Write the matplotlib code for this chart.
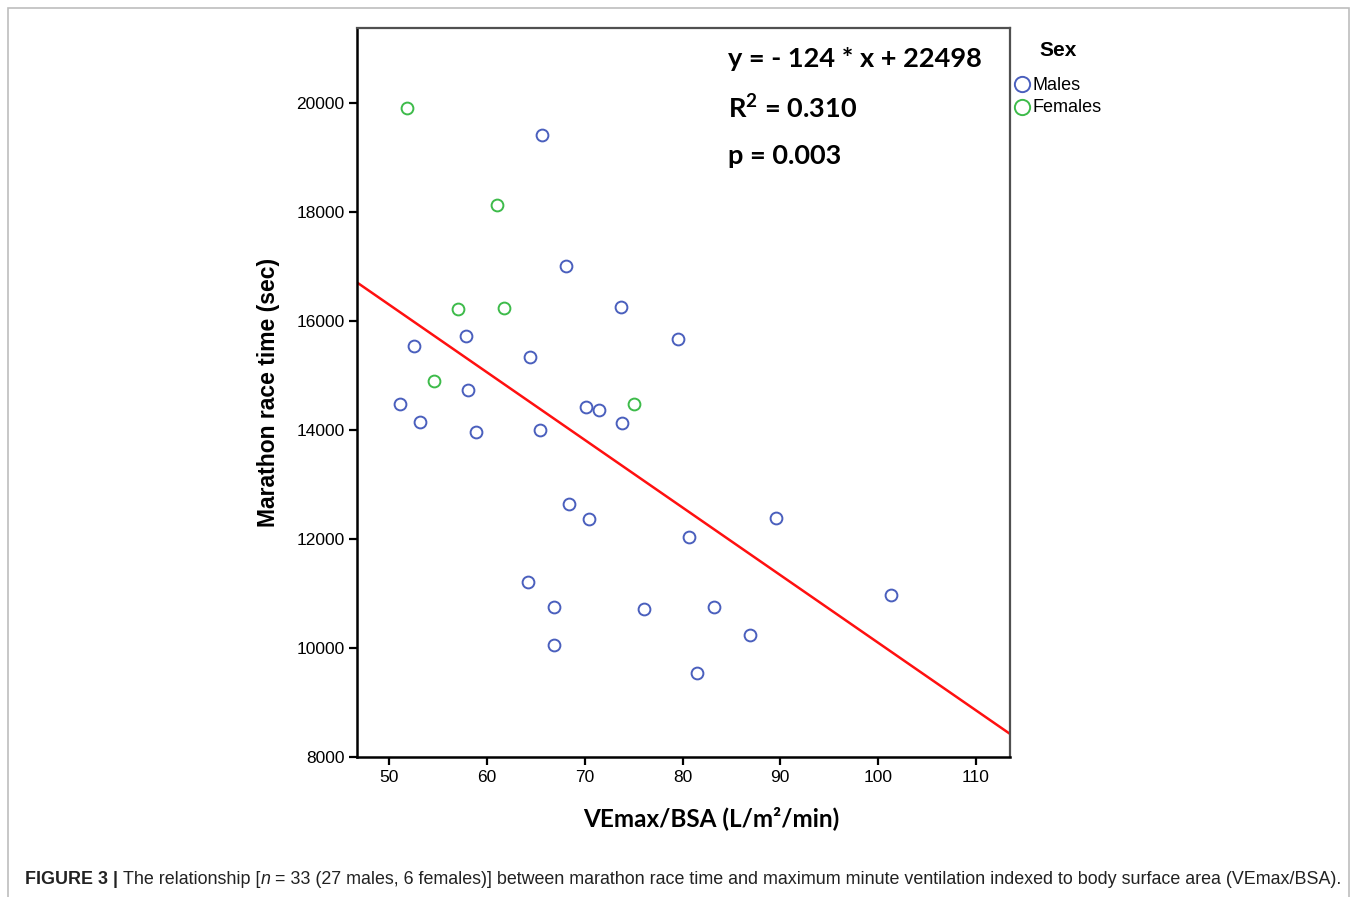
import numpy as np
import matplotlib
matplotlib.use("Agg")
from matplotlib import pyplot as plt
from matplotlib.patches import Rectangle
from matplotlib.lines import Line2D

# data
males_x = [65.6, 68.1, 73.7, 79.5, 57.9, 52.5, 64.4, 58.1, 51.1, 53.1, 58.9, 65.4,
           70.1, 71.5, 73.8, 68.4, 70.4, 80.7, 89.6, 64.2, 66.9, 66.9, 76.1, 83.2,
           86.9, 81.5, 101.3]
males_y = [19410, 17010, 16250, 15670, 15720, 15540, 15340, 14730, 14480, 14150, 13960, 14000,
           14420, 14370, 14130, 12640, 12370, 12040, 12380, 11210, 10750, 10060, 10720, 10750,
           10240, 9540, 10970]
females_x = [51.8, 61.0, 57.0, 61.7, 54.6, 75.0]
females_y = [19910, 18120, 16220, 16240, 14900, 14480]

slope = -124
intercept = 22498

x_ticks = [50, 60, 70, 80, 90, 100, 110]
y_ticks = [8000, 10000, 12000, 14000, 16000, 18000, 20000]

blue = "#4a5fbd"
green = "#3dbb4a"

W, H = 1357, 897
fig = plt.figure(figsize=(W / 100, H / 100), dpi=100)
plt.rcParams['mathtext.fontset'] = 'custom'
plt.rcParams['mathtext.bf'] = 'Lato:bold'
plt.rcParams['mathtext.rm'] = 'Lato:bold'

# outer frame round the figure
fig.add_artist(Rectangle((8 / W, -0.01), (1349 - 8) / W, 1.01 - 8 / H, transform=fig.transFigure,
                         fill=False, edgecolor="#bdbdbd", linewidth=1.2))

ax = fig.add_axes([357 / W, 1 - 757 / H, (1010 - 357) / W, (757 - 28) / H])
ax.set_xlim(46.7, 113.5)
ax.set_ylim(8000, 21376)

ax.plot(males_x, males_y, "o", mfc="none", mec=blue, ms=8.5, mew=1.4)
ax.plot(females_x, females_y, "o", mfc="none", mec=green, ms=8.5, mew=1.4)

xl = np.array(ax.get_xlim())
ax.plot(xl, slope * xl + intercept, color="#ff1010", lw=1.8)
ax.set_xlim(46.7, 113.5)

for s in ["left", "bottom"]:
    ax.spines[s].set_linewidth(1.8)
    ax.spines[s].set_color("black")
for s in ["top", "right"]:
    ax.spines[s].set_linewidth(1.6)
    ax.spines[s].set_color("#505050")

ax.set_xticks(x_ticks)
ax.set_yticks(y_ticks)
ax.tick_params(direction="out", length=6, width=1.6, labelsize=12.5, pad=3)
for lab in ax.get_xticklabels() + ax.get_yticklabels():
    lab.set_family("Liberation Sans")

ax.set_ylabel("Marathon race time (sec)", fontsize=16.5, fontweight="bold",
              family="Liberation Sans", labelpad=12)
ax.set_xlabel("VEmax/BSA (L/m²/min)", fontsize=17.5, fontweight="bold", family="Lato")
ax.xaxis.set_label_coords((711 - 357) / (1010 - 357), -(818 - 757) / (757 - 28))
ax.xaxis.label.set_va("center")

ax.text(0.568, 0.958, "y = - 124 * x + 22498", transform=ax.transAxes, fontsize=19.5,
        fontweight="bold", family="Lato", va="center")
ax.text(0.568, 0.891, "R$^{\\mathbf{2}}$ = 0.310", transform=ax.transAxes, fontsize=19.5,
        fontweight="bold", family="Lato", va="center")
ax.text(0.568, 0.824, "p = 0.003", transform=ax.transAxes, fontsize=19.5,
        fontweight="bold", family="Lato", va="center")

# legend outside on the right
fig.text(1058 / W, 1 - 51 / H, "Sex", fontsize=15, fontweight="bold", family="Liberation Sans",
         ha="center", va="center")
fig.add_artist(Line2D([1022 / W], [1 - 84 / H], marker="o", mfc="none", mec=blue, ms=11, mew=1.4,
                      transform=fig.transFigure))
fig.add_artist(Line2D([1022 / W], [1 - 107 / H], marker="o", mfc="none", mec=green, ms=11, mew=1.4,
                      transform=fig.transFigure))
fig.text(1033 / W, 1 - 85 / H, "Males", fontsize=13, family="Liberation Sans", va="center")
fig.text(1033 / W, 1 - 107 / H, "Females", fontsize=13, family="Liberation Sans", va="center")

# caption, sized so it runs from x=25 to x=1338 like the original
parts = [("FIGURE 3 | ", "bold", "normal"), ("The relationship [", "normal", "normal"),
         ("n", "normal", "italic"),
         (" = 33 (27 males, 6 females)] between marathon race time and maximum minute ventilation "
          "indexed to body surface area (VEmax/BSA).", "normal", "normal")]
fig.canvas.draw()
r = fig.canvas.get_renderer()
fs = 13.5
total = 0
for txt, wgt, sty in parts:
    t = fig.text(0, 0, txt, fontsize=fs, fontweight=wgt, style=sty, family="Liberation Sans")
    total += t.get_window_extent(r).width
    t.remove()
fs = fs * (1338 - 25) / total
cx = 25
cy = 1 - 879 / H
for txt, wgt, sty in parts:
    t = fig.text(cx / W, cy, txt, fontsize=fs, fontweight=wgt, style=sty, family="Liberation Sans",
                 va="center", color="#222222")
    cx = t.get_window_extent(r).x1

fig.savefig("out.png", dpi=100)
